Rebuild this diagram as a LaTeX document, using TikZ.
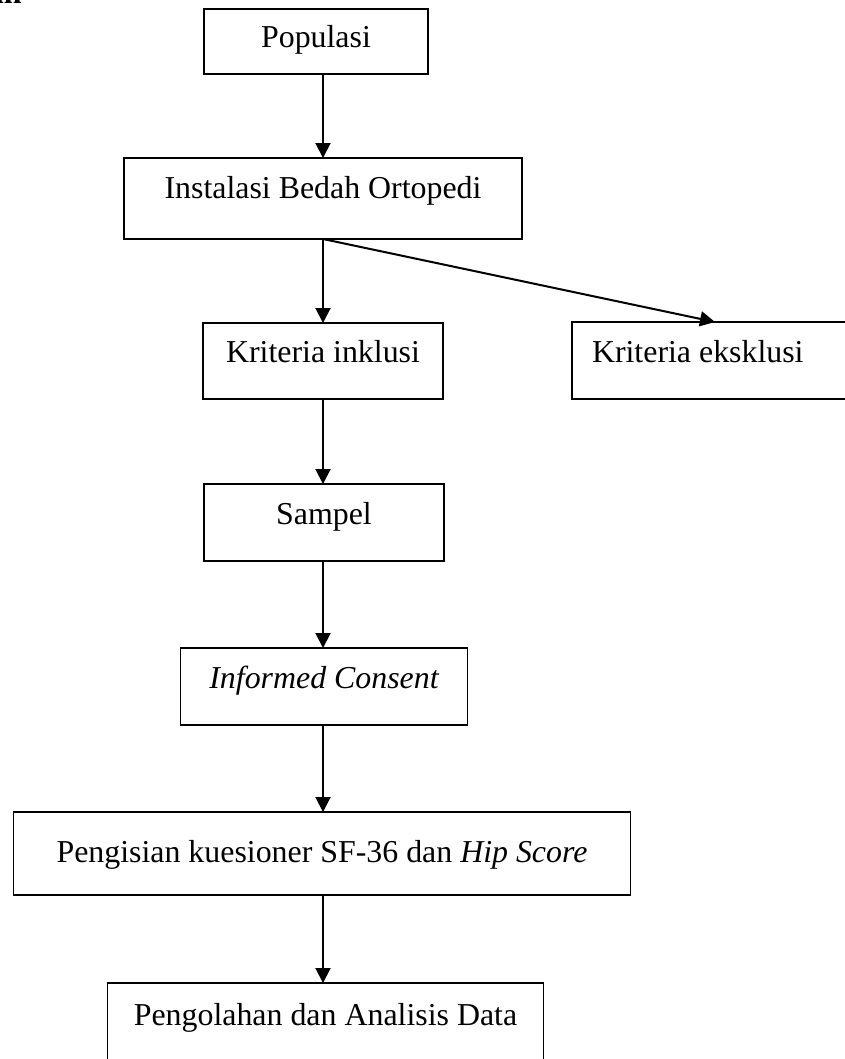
\documentclass[tikz,border=0pt]{standalone}
\usepackage{fontspec}
\setmainfont{Liberation Serif}
\usetikzlibrary{positioning,arrows.meta}

\begin{document}
\begin{tikzpicture}[
    x=0.4pt, y=-0.4pt,
    flowBox/.style={rectangle, draw=black, line width=0.6pt, inner xsep=0pt, inner ysep=0pt, outer sep=0pt, align=center, font=\fontsize{12.75}{15}\selectfont},
    headText/.style={font=\fontsize{12.75}{15}\selectfont\bfseries, inner sep=0pt},
    arrowLine/.style={-{Triangle[length=6pt,width=6pt]}, line width=0.8pt, draw=black}
]
\useasboundingbox (0,0) rectangle (845,1059);

% ================= HEADING (cut off) =================
\node[headText, anchor=base east] (head) at (22,4) {an};

% ================= MAIN FLOW =================
\node[flowBox, anchor=north, minimum width=89.6pt, text height=15.6pt, text depth=10.4pt] (populasi) at (316,9) {Populasi};
\node[flowBox, below=33.6pt of populasi, xshift=2.8pt, minimum width=159.2pt, text height=16pt, text depth=16.4pt] (instalasi) {Instalasi Bedah Ortopedi};
\node[flowBox, below=33.6pt of instalasi, minimum width=96pt, text height=15.6pt, text depth=14.8pt] (inklusi) {Kriteria inklusi};
\node[flowBox, below=34pt of inklusi, xshift=0.4pt, minimum width=96pt, text height=16pt, text depth=14.8pt] (sampel) {Sampel};
\node[flowBox, below=34.8pt of sampel, minimum width=114.8pt, text height=16pt, text depth=14.8pt] (consent) {\itshape Informed Consent};
\node[flowBox, below=34.8pt of consent, xshift=-0.8pt, minimum width=246.8pt, text height=20pt, text depth=13.2pt] (kuesioner) {Pengisian kuesioner SF-36 dan \textit{Hip Score}};
\node[flowBox, below=35.2pt of kuesioner, xshift=1.4pt, minimum width=174.4pt, text height=16.8pt, text depth=14pt] (analisis) {Pengolahan dan Analisis Data};

% ================= SIDE BRANCH =================
\node[flowBox, anchor=north west, inner xsep=8pt, text width=95.2pt, align=flush left, text height=16pt, text depth=14.8pt] (eksklusi) at (572,322) {Kriteria eksklusi};

% ================= ARROWS =================
\draw[arrowLine] (instalasi.north |- populasi.south) -- (instalasi.north);
\draw[arrowLine] (instalasi.south) -- (inklusi.north);
\draw[arrowLine] (instalasi.south) -- ([xshift=57.2pt]eksklusi.north west);
\draw[arrowLine] (inklusi.south) -- (sampel.north -| inklusi.south);
\draw[arrowLine] (sampel.south -| inklusi.south) -- (consent.north -| inklusi.south);
\draw[arrowLine] (consent.south -| inklusi.south) -- (kuesioner.north -| inklusi.south);
\draw[arrowLine] (kuesioner.south -| inklusi.south) -- (analisis.north -| inklusi.south);

\end{tikzpicture}
\end{document}
